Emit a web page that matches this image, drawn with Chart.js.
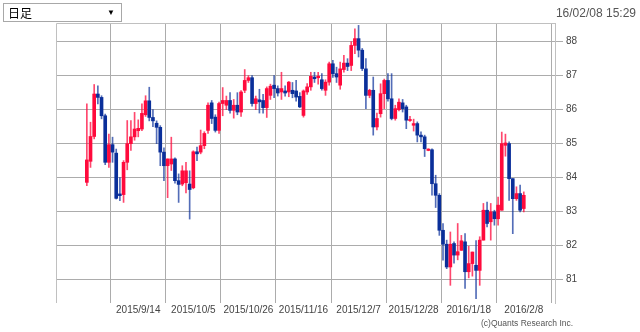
<!DOCTYPE html>
<html><head><meta charset="utf-8">
<script src="https://cdn.jsdelivr.net/npm/chart.js@4/dist/chart.umd.min.js"></script>
<style>
html,body{margin:0;padding:0;background:#fff;}
#wrap{position:relative;width:640px;height:332px;overflow:hidden;font-family:"Liberation Sans",Arial,sans-serif;}
#c{position:absolute;left:0;top:0;}
#sel{position:absolute;left:3px;top:3px;width:119px;height:19px;border:1px solid #a8a8a8;box-sizing:border-box;background:#fff;}
#sel .t{position:absolute;left:4px;top:1px;font-family:"Noto Sans CJK JP",sans-serif;font-size:12px;line-height:16px;color:#000;}
#sel .a{position:absolute;right:6px;top:2px;font-size:8px;line-height:14px;color:#000;}
#ts{position:absolute;right:4px;top:6px;font-size:12px;line-height:14px;color:#555;}
#cr{position:absolute;left:481px;top:318px;font-size:8.5px;line-height:11px;color:#555;}
</style></head>
<body><div id="wrap">
<canvas id="c" width="640" height="332"></canvas>
<div id="sel"><span class="t">日足</span><span class="a">▼</span></div>
<div id="ts">16/02/08 15:29</div>
<div id="cr">(c)Quants Research Inc.</div>
</div>
<script>
// trading-day index of first candle (0 = 2015/9/14)
const firstIndex = -14;
const openV = [83.86,84.48,85.21,86.46,86.36,85.82,84.45,84.97,84.72,83.52,83.50,84.45,85.00,85.20,
85.38,85.43,85.85,86.26,85.77,85.60,85.48,84.75,84.35,84.40,84.55,83.91,83.81,83.85,83.81,
83.70,84.76,84.75,84.94,85.39,86.20,85.78,85.39,86.18,86.13,86.27,85.98,86.13,85.93,86.57,
86.86,86.94,86.18,86.29,86.27,86.06,86.42,86.72,86.62,86.52,86.55,86.52,86.57,86.55,86.39,
85.83,86.52,86.67,86.96,86.94,86.88,86.57,86.81,87.35,87.06,86.72,87.18,87.37,87.30,87.89,
88.09,87.75,87.20,86.42,86.57,85.49,85.88,86.47,86.86,86.32,85.74,86.00,86.20,86.08,
85.68,85.54,85.59,85.25,85.20,84.80,84.82,83.82,83.48,82.45,82.04,81.37,82.06,81.72,81.86,
82.11,81.23,81.47,81.42,81.27,82.16,83.04,82.70,82.99,82.79,83.04,84.95,85.00,83.97,83.38,83.53,83.09];
const highV = [86.17,85.63,86.74,86.70,86.41,85.87,85.28,85.19,84.84,84.00,84.50,85.68,85.68,85.92,
85.70,86.17,86.41,86.66,86.00,85.67,85.53,84.88,84.55,85.19,84.58,84.11,84.35,84.45,84.20,
84.79,84.90,85.40,85.35,86.20,86.27,85.85,86.22,86.65,86.40,86.50,86.30,86.50,86.56,87.18,
87.00,87.00,86.40,86.60,86.45,86.67,86.75,87.00,86.70,87.10,86.70,86.83,86.80,86.86,86.50,
86.58,86.77,87.10,87.10,87.10,87.06,86.88,87.40,87.45,87.25,87.40,87.60,87.50,88.00,88.38,
88.48,87.80,87.50,86.60,86.96,85.90,86.76,86.90,87.06,87.06,86.13,86.32,86.30,86.13,
85.80,85.72,85.64,85.35,85.25,84.85,84.85,84.07,83.53,82.65,82.16,82.40,82.11,82.65,82.30,
82.35,81.98,81.81,82.15,82.26,83.24,83.28,83.24,83.04,83.43,85.34,85.28,85.05,83.97,83.73,83.78,83.58];
const lowV = [83.76,84.30,85.14,86.17,85.73,84.38,84.30,84.45,83.37,83.32,83.27,84.23,84.80,85.10,
85.20,85.38,85.80,85.67,85.50,85.00,84.35,83.91,83.41,84.21,83.84,83.27,83.76,83.55,82.78,
83.67,84.50,84.70,84.85,85.30,85.59,85.34,85.30,85.82,86.00,85.90,85.75,85.85,85.80,86.50,
86.80,86.10,86.00,85.90,85.90,85.77,86.30,86.35,86.40,86.30,86.40,86.38,86.35,86.25,86.06,
85.78,86.45,86.57,86.80,86.75,86.57,86.42,86.72,86.95,86.80,86.60,87.10,87.15,87.15,87.65,
87.55,87.15,86.03,86.35,85.25,85.40,85.78,86.03,86.25,85.70,85.69,85.96,85.93,85.44,
85.65,85.37,85.05,85.05,84.62,84.79,83.48,83.12,82.30,81.57,81.32,80.83,81.48,81.58,81.86,
80.74,81.05,81.10,80.44,80.83,82.16,82.55,82.16,82.60,82.60,83.04,84.63,83.33,82.35,83.33,82.99,82.99];
const closeV = [84.52,85.21,86.46,86.36,85.82,84.45,84.97,84.75,83.39,83.47,84.45,85.00,85.20,85.43,
85.45,85.89,86.26,85.77,85.67,85.48,84.75,84.35,84.55,84.55,83.91,83.80,84.20,84.20,83.65,
84.76,84.70,84.94,85.30,86.13,85.74,85.39,86.18,86.27,86.27,85.98,86.13,85.93,86.52,86.86,
86.94,86.18,86.32,86.23,86.06,86.62,86.69,86.62,86.49,86.62,86.49,86.81,86.47,86.37,86.08,
86.55,86.67,86.98,86.91,86.98,86.62,86.81,87.35,87.06,86.96,87.20,87.37,87.27,87.89,88.09,
87.75,87.21,86.42,86.57,85.49,85.74,86.47,86.86,86.32,85.74,86.03,86.22,86.03,85.69,
85.71,85.59,85.25,85.20,84.85,84.84,83.82,83.48,82.45,82.04,81.37,82.04,81.72,81.82,82.14,
81.23,81.47,81.81,81.27,82.16,83.04,82.65,82.99,82.79,83.19,85.00,85.02,83.97,83.38,83.53,83.04,83.48];

const xTickIndex = [0,15,30,45,60,75,90,105];
const xTickLabels = ["2015/9/14","2015/10/5","2015/10/26","2015/11/16","2015/12/7","2015/12/28","2016/1/18","2016/2/8"];
const yTicks = [81,82,83,84,85,86,87,88];

const UP = '#ff0a3c', DOWN = '#0a2f9a';
const UPW = 'rgba(255,10,60,0.75)', DOWNW = 'rgba(10,47,154,0.7)';
const GRID = '#acacac';

const bodies = openV.map((o,k)=>({x:firstIndex+k, y:[o, closeV[k]]}));
const wicks = openV.map((o,k)=>({x:firstIndex+k, y:[lowV[k], highV[k]]}));
const bodyCol = openV.map((o,k)=> closeV[k] >= o ? UP : DOWN);
const wickCol = openV.map((o,k)=> closeV[k] >= o ? UPW : DOWNW);

const frame = {
  id:'frame',
  afterDraw(chart){
    const {ctx, chartArea:a} = chart;
    ctx.save();
    ctx.strokeStyle = '#c0c0c0';
    ctx.lineWidth = 1;
    ctx.beginPath();
    ctx.moveTo(a.left+0.5, a.bottom);
    ctx.lineTo(a.left+0.5, a.top+0.5);
    ctx.lineTo(a.right, a.top+0.5);
    ctx.stroke();
    ctx.restore();
  }
};

new Chart(document.getElementById('c'), {
  type:'bar',
  data:{datasets:[
    {data:bodies, backgroundColor:bodyCol, barThickness:3, minBarLength:1, grouped:false, order:0},
    {data:wicks, backgroundColor:wickCol, barThickness:1, grouped:false, order:1}
  ]},
  options:{
    responsive:false, animation:false, devicePixelRatio:1,
    layout:{padding:{left:56, top:23, right:0, bottom:0}},
    plugins:{legend:{display:false}, tooltip:{enabled:false}},
    scales:{
      x:{type:'linear', min:-22.4, max:113.5, offset:false,
        grid:{color:GRID, drawTicks:false},
        border:{display:false},
        ticks:{padding:1, color:'#444', font:{family:'"Liberation Sans", Arial, sans-serif', size:10},
          maxRotation:0, autoSkip:false,
          callback:(v)=>{const k=xTickIndex.indexOf(v); return k>=0?xTickLabels[k]:'';}},
        afterBuildTicks:(s)=>{s.ticks = xTickIndex.map(v=>({value:v}));},
        afterFit:(s)=>{s.height = 29;}
      },
      y:{position:'right', min:80.31, max:88.55,
        grid:{color:GRID, tickLength:8},
        border:{display:true, color:'#c0c0c0'},
        ticks:{padding:3, color:'#444', font:{family:'"Liberation Sans", Arial, sans-serif', size:10}},
        afterBuildTicks:(s)=>{s.ticks = yTicks.map(v=>({value:v}));},
        afterFit:(s)=>{s.width = 85;}
      }
    }
  },
  plugins:[frame]
});
</script>
</body></html>
